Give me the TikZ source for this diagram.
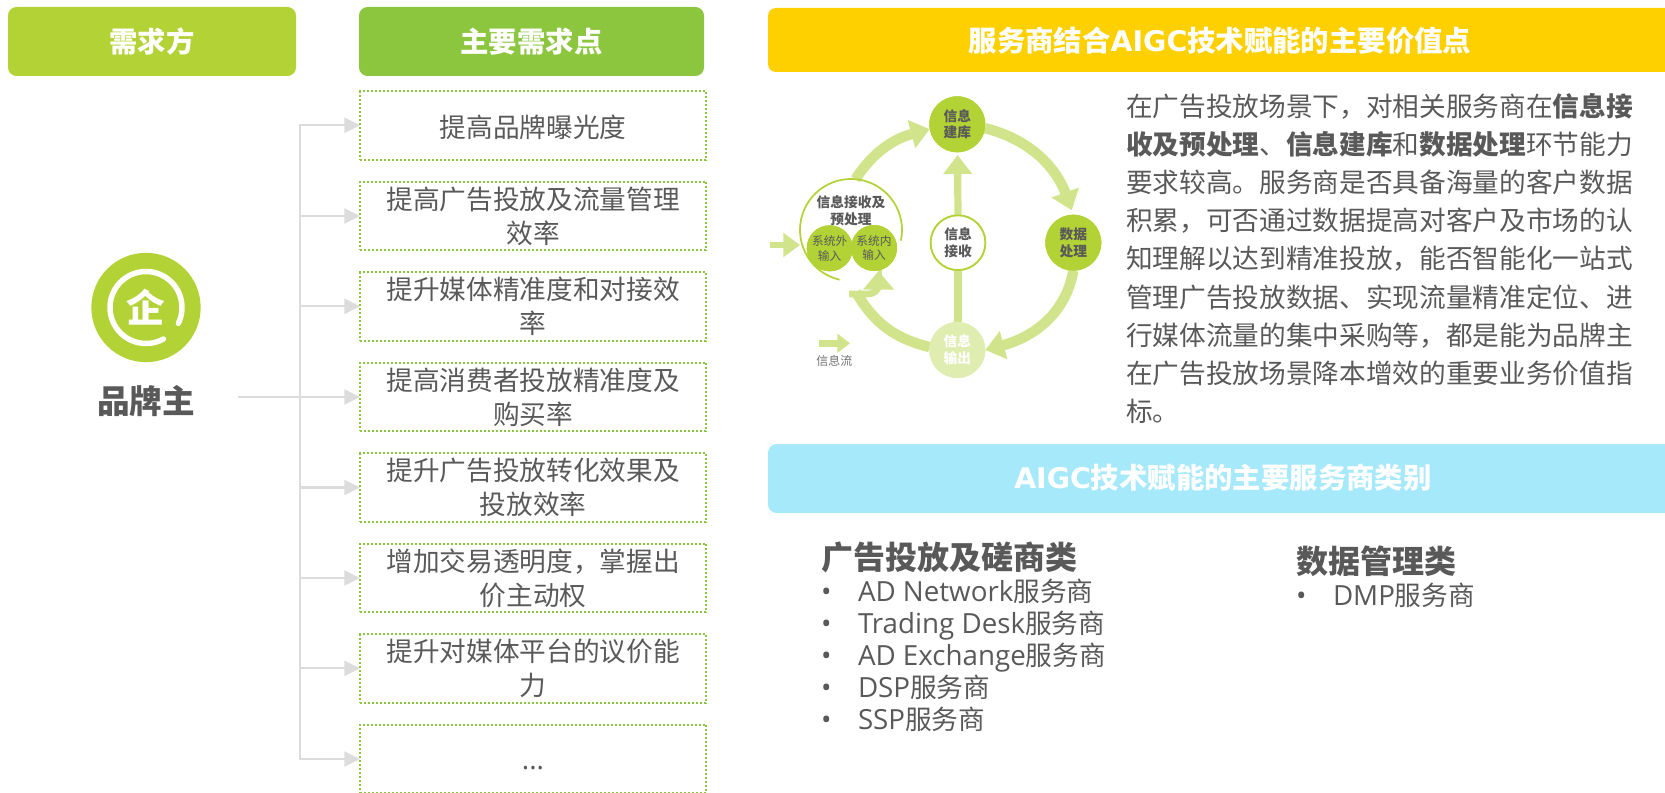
\documentclass[tikz,border=0pt]{standalone}
\usepackage{fontspec}
\setmainfont{Noto Sans CJK SC}
\newfontfamily\latf[Scale=1.04]{Open Sans}
\newfontfamily\headf{DejaVu Sans}
\usetikzlibrary{arrows.meta}
\definecolor{tx}{HTML}{595959}
\definecolor{lime}{HTML}{B2D235}
\definecolor{grn}{HTML}{8CC63E}
\definecolor{ylw}{HTML}{FFD000}
\definecolor{sky}{HTML}{A5E9FB}
\definecolor{flowc}{HTML}{D1E48C}
\definecolor{pale}{HTML}{E0EDB1}
\definecolor{conc}{HTML}{DCDCDC}
\newcommand{\fs}[2]{\fontsize{#1pt}{#2pt}\selectfont}
\tikzset{
  header/.style={rounded corners=6.5pt,inner sep=0pt,outer sep=0pt,text=white,font=\fs{21.3}{26}\bfseries},
  needbox/.style={draw=grn,line width=1.4pt,dash pattern=on 1.5pt off 1.5pt,minimum width=259.5pt,minimum height=51.4pt,inner sep=0pt,outer sep=0pt,align=center,text=tx,font=\fs{20}{25.5}},
  conn/.style={draw=conc,line width=1.7pt},
  conntip/.style={conn,-{Triangle[length=11.8pt,width=11.3pt]}},
  dot/.style={circle,minimum size=42pt,inner sep=0pt,outer sep=0pt,align=center,text=tx,font=\fs{10.3}{12.5}\bfseries},
  smalldot/.style={circle,fill=lime,minimum size=34.5pt,inner sep=0pt,outer sep=0pt,align=center,text=tx,font=\fs{8.8}{11}},
  bigflow/.style={draw=flowc,line width=7.8pt,-{Triangle[length=14.2pt,width=21pt]}},
  flowplain/.style={draw=flowc,line width=7.8pt},
  vflow/.style={draw=flowc,line width=5.4pt},
  vflowtip/.style={vflow,-{Triangle[length=14.2pt,width=20.8pt]}},
  feed/.style={draw=flowc,line width=5pt,-{Triangle[length=12.5pt,width=17.5pt]}},
  legendflow/.style={draw=flowc,line width=5pt,-{Triangle[length=9.5pt,width=14pt]}},
  plain/.style={inner sep=0pt,outer sep=0pt,text=tx},
  item/.style={plain,anchor=west,font=\fs{20}{24},text height=20pt,text depth=5pt},
  listhead/.style={plain,anchor=west,font=\fs{24}{28}\bfseries}
}
\begin{document}
\begin{tikzpicture}[x=0.75pt,y=-0.75pt]
\useasboundingbox (0,0) rectangle (1665,792);
\clip (0,0) rectangle (1665,792);
% headers
\node[header,fill=lime,minimum width=216pt,minimum height=51.75pt] (h1) at (152,41.5) {需求方};
\node[header,fill=grn,minimum width=258.75pt,minimum height=51.75pt] (h2) at (531.5,41.5) {主要需求点};
\node[header,fill=ylw,minimum width=681pt,minimum height=48pt,rounded corners=6pt] (h3) at (1222,40) {};
\node[plain,text=white,font=\fs{21.3}{26}\bfseries] (h3t) at (1220,41) {服务商结合{\headf AIGC}技术赋能的主要价值点};
\node[header,fill=sky,minimum width=681pt,minimum height=51.75pt] (h4) at (1222,478.5) {};
\node[plain,text=white,font=\fs{21.3}{26}\bfseries] (h4t) at (1223,478) {{\headf AIGC}技术赋能的主要服务商类别};
% need boxes
\node[needbox] (b1) at (533,125.3) {\raisebox{0pt}[20pt][1.6pt]{提高品牌曝光度}};
\node[needbox] (b2) at (533,216) {提高广告投放及流量管理\\效率};
\node[needbox] (b3) at (533,306.3) {提升媒体精准度和对接效\\率};
\node[needbox] (b4) at (533,397) {提高消费者投放精准度及\\购买率};
\node[needbox] (b5) at (533,487.5) {提升广告投放转化效果及\\投放效率};
\node[needbox] (b6) at (533,578) {增加交易透明度，掌握出\\价主动权};
\node[needbox] (b7) at (533,668.3) {提升对媒体平台的议价能\\力};
\node[needbox] (b8) at (533,759) {};
\node[plain,font=\fs{20}{25}\latf] (b8t) at (533,768.5) {...};
% brand
\node[circle,fill=lime,minimum size=82pt,inner sep=0pt,outer sep=0pt] (icon) at (146,307.5) {};
\draw[white,line width=4.1pt,line cap=round] ([shift={(-26:27pt)}]icon.center) arc[start angle=-26,end angle=299,radius=27pt];
\node[plain,text=white,font=\fs{29}{32}\bfseries] (qi) at (146,307) {企};
\node[plain,font=\fs{24.5}{28}\bfseries] (brand) at (146,401) {品牌主};
% connectors
\coordinate (hub) at (300,397);
\coordinate (fs) at (238,397);
\draw[conn] (fs) -- (hub);
\draw[conn,line cap=rect] (hub |- b1.west) -- (hub |- b8.west);
\foreach \b in {b1,b2,b3,b4,b5,b6,b7,b8} {
  \draw[conntip] (hub |- \b.west) -- (\b.west);
}
% cycle nodes (positions first, drawn on top later)
\path
  node[dot,fill=lime] (jk) at (957.3,124.3) {信息\\建库}
  node[dot,fill=lime] (sj) at (1073.3,242.7) {数据\\处理}
  node[dot,fill=pale,text=white] (sc) at (957.3,350) {信息\\输出}
  node[dot,draw=lime,line width=1.3pt,fill=white,minimum size=41pt] (js) at (958,242.7) {信息\\接收}
  node[circle,minimum size=76.5pt,inner sep=0pt,outer sep=0pt] (pre) at (851,230) {}
  node[smalldot] (wai) at (829.7,248.3) {系统外\\输入}
  node[smalldot] (nei) at (874,248) {系统内\\输入};
\coordinate (arcend) at (856,292);
\coordinate (hookstart) at (849,294);
\coordinate (hookmid) at (868,294);
\coordinate (hookup) at (878.5,285);
\coordinate (feedstart) at (770,245);
\coordinate (legstart) at (818.7,343.3);
\coordinate (legend) at (850,343.3);
% flows
\draw[bigflow] (pre.85) to[out=57,in=195] (jk.190);
\draw[bigflow,shorten >=3.5pt] (jk.-8) to[out=-14,in=110] (sj.north);
\draw[bigflow] (sj.south) to[out=-100,in=15] (sc.east);
\draw[flowplain] (sc.174) to[out=166,in=-60] (arcend);
\draw[draw=flowc,line width=5pt,-{Triangle[length=14pt,width=22.5pt]}] (hookstart) -- (hookmid) to[out=0,in=-90] (hookup) -- (nei.south -| hookup);
\draw[vflow] (sc.north -| js.south) -- (js.south);
\draw[vflowtip] (js.north) -- (957.5,155);
\draw[feed] (feedstart) -- (pre.west |- feedstart);
\draw[legendflow] (legstart) -- (legend);
% redraw nodes over the flows
\path
  node[dot,fill=lime] at (957.3,124.3) {信息\\建库}
  node[dot,fill=lime] at (1073.3,242.7) {数据\\处理}
  node[dot,fill=pale,text=white] at (957.3,350) {信息\\输出}
  node[dot,draw=lime,line width=1.3pt,fill=white,minimum size=41pt] at (958,242.7) {信息\\接收};
% ring
\draw[lime,line width=1.3pt] ([shift={(257:38.25pt)}]pre.center) arc[start angle=257,end angle=-12,radius=38.25pt];
\node[plain,align=center,font=\fs{10.3}{12.5}\bfseries] (pret) at (851,211) {信息接收及\\预处理};
\path
  node[smalldot] at (829.7,248.3) {系统外\\输入}
  node[smalldot] at (874,248) {系统内\\输入};
\node[plain,font=\fs{9}{11},text=tx!85] (legt) at (834.3,361) {信息流};
% body text
\node[plain,anchor=north west,align=left,font=\fs{20}{28.65}] (body) at (1126,93) {在广告投放场景下，对相关服务商在\textbf{信息接}\\
\textbf{收及预处理}、\textbf{信息建库}和\textbf{数据处理}环节能力\\
要求较高。服务商是否具备海量的客户数据\\
积累，可否通过数据提高对客户及市场的认\\
知理解以达到精准投放，能否智能化一站式\\
管理广告投放数据、实现流量精准定位、进\\
行媒体流量的集中采购等，都是能为品牌主\\
在广告投放场景降本增效的重要业务价值指\\
标。};
% lists
\node[listhead] (l1) at (821,557) {广告投放及磋商类};
\node[item] (l11) at (821,591) {\makebox[27.75pt][l]{\latf •}{\latf AD Network}服务商};
\node[item] (l12) at (821,623) {\makebox[27.75pt][l]{\latf •}{\latf Trading Desk}服务商};
\node[item] (l13) at (821,655) {\makebox[27.75pt][l]{\latf •}{\latf AD Exchange}服务商};
\node[item] (l14) at (821,687) {\makebox[27.75pt][l]{\latf •}{\latf DSP}服务商};
\node[item] (l15) at (821,719) {\makebox[27.75pt][l]{\latf •}{\latf SSP}服务商};
\node[listhead] (l2) at (1296,561) {数据管理类};
\node[item] (l21) at (1296,595) {\makebox[27.75pt][l]{\latf •}{\latf DMP}服务商};
\end{tikzpicture}
\end{document}
